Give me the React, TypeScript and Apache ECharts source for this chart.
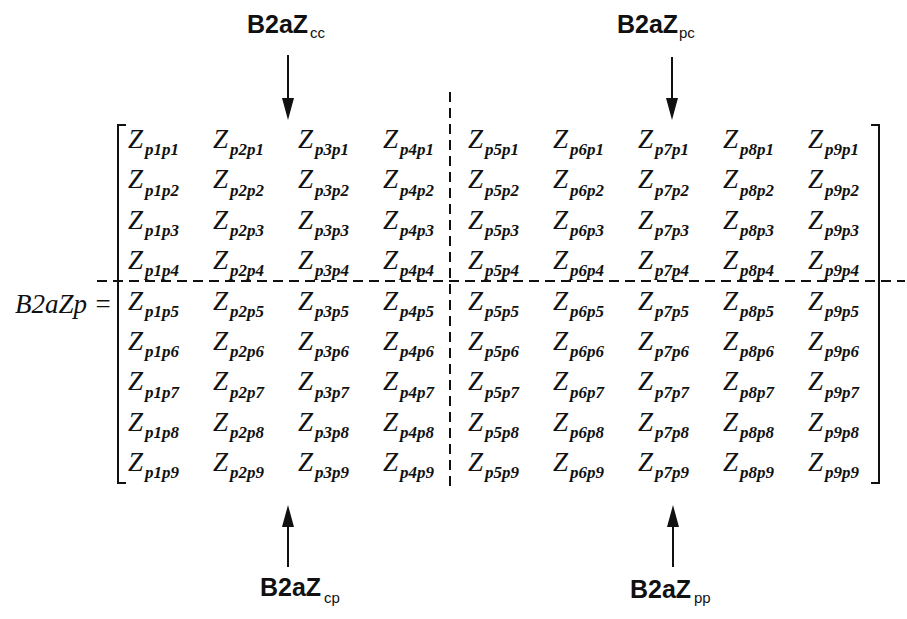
import React, { useEffect, useRef } from "react";
import * as echarts from "echarts";

// Matrix indices (columns = first subscript, rows = second subscript)
const columns = ["1", "2", "3", "4", "5", "6", "7", "8", "9"];
const rows = ["1", "2", "3", "4", "5", "6", "7", "8", "9"];
const matrixName = "B2aZp =";
const entrySymbol = "Z";
const blockLabels = [
  { main: "B2aZ", sub: "cc" },
  { main: "B2aZ", sub: "pc" },
  { main: "B2aZ", sub: "cp" },
  { main: "B2aZ", sub: "pp" },
];

const SERIF = '"Liberation Serif", "Times New Roman", serif';
const SANS = '"Liberation Sans", Arial, sans-serif';

export default function App() {
  const ref = useRef<HTMLDivElement>(null);

  useEffect(() => {
    if (!ref.current) return;
    const chart = echarts.init(ref.current, null, { renderer: "svg" });

    const cells: any[] = [];
    rows.forEach((r, ri) => {
      columns.forEach((c, ci) => {
        cells.push({ value: [ci, ri], sub: "p" + c + "p" + r });
      });
    });

    const black = "#111";
    const lw = 2;

    const arrowDown = (x: number, y0: number, tip: number) => [
      { type: "line", shape: { x1: x, y1: y0, x2: x, y2: tip - 18 }, style: { stroke: black, lineWidth: lw } },
      { type: "polygon", shape: { points: [[x - 6, tip - 22], [x + 6, tip - 22], [x, tip]] }, style: { fill: black } },
    ];
    const arrowUp = (x: number, y0: number, tip: number) => [
      { type: "line", shape: { x1: x, y1: y0, x2: x, y2: tip + 18 }, style: { stroke: black, lineWidth: lw } },
      { type: "polygon", shape: { points: [[x - 6, tip + 22], [x + 6, tip + 22], [x, tip]] }, style: { fill: black } },
    ];
    const label = (x: number, y: number, subX: number, subY: number, l: { main: string; sub: string }) => [
      { type: "text", x, y, style: { text: l.main, font: `bold 25px ${SANS}`, fill: black, verticalAlign: "middle", align: "left" } },
      { type: "text", x: subX, y: subY, style: { text: l.sub, font: `15px ${SANS}`, fill: black, verticalAlign: "middle", align: "left" } },
    ];

    const graphics: any[] = [
      // left bracket
      { type: "polyline", shape: { points: [[126, 125], [118, 125], [118, 483], [126, 483]] }, style: { stroke: black, lineWidth: lw, fill: "none" } },
      // right bracket
      { type: "polyline", shape: { points: [[871, 125], [879, 125], [879, 483], [871, 483]] }, style: { stroke: black, lineWidth: lw, fill: "none" } },
      // dashed partitions
      { type: "line", shape: { x1: 97, y1: 281, x2: 905, y2: 281 }, style: { stroke: black, lineWidth: lw, lineDash: [10, 6] } },
      { type: "line", shape: { x1: 450, y1: 92, x2: 450, y2: 488 }, style: { stroke: black, lineWidth: lw, lineDash: [10, 6] } },
      // matrix name
      { type: "text", x: 112, y: 304, style: { text: matrixName, font: `italic 27px ${SERIF}`, fill: black, align: "right", verticalAlign: "middle" } },
      ...arrowDown(288, 55, 120),
      ...arrowDown(672, 57, 120),
      ...arrowUp(288, 567, 505),
      ...arrowUp(673, 567, 505),
      ...label(247, 23.7, 310, 32.8, blockLabels[0]),
      ...label(617, 23.7, 679, 32.8, blockLabels[1]),
      ...label(260, 586.7, 324, 597.8, blockLabels[2]),
      ...label(630, 588.5, 694, 597.5, blockLabels[3]),
    ];

    chart.setOption({
      animation: false,
      backgroundColor: "#fff",
      grid: { left: 110.5, top: 118.8, width: 765, height: 363.6, containLabel: false },
      xAxis: { type: "category", data: columns, show: false, boundaryGap: true },
      yAxis: { type: "category", data: rows, show: false, inverse: true, boundaryGap: true },
      series: [
        {
          type: "custom",
          coordinateSystem: "cartesian2d",
          data: cells,
          renderItem: (params: any, api: any) => {
            const pt = api.coord([api.value(0), api.value(1)]);
            const sub = cells[params.dataIndex].sub;
            return {
              type: "group",
              children: [
                {
                  type: "text",
                  x: pt[0] - 25,
                  y: pt[1],
                  style: { text: entrySymbol, fontFamily: SERIF, fontStyle: "italic", fontSize: 27, fill: black, align: "left", verticalAlign: "middle" },
                },
                {
                  type: "text",
                  x: pt[0] - 8,
                  y: pt[1] + 10.6,
                  style: { text: sub, fontFamily: SERIF, fontStyle: "italic", fontWeight: "bold", fontSize: 17, fill: black, align: "left", verticalAlign: "middle" },
                },
              ],
            };
          },
        },
      ],
      graphic: { elements: graphics },
    });

    return () => chart.dispose();
  }, []);

  return (
    <div
      ref={ref}
      style={{ position: "fixed", left: 0, top: 0, width: 907, height: 619, background: "#fff" }}
    />
  );
}
